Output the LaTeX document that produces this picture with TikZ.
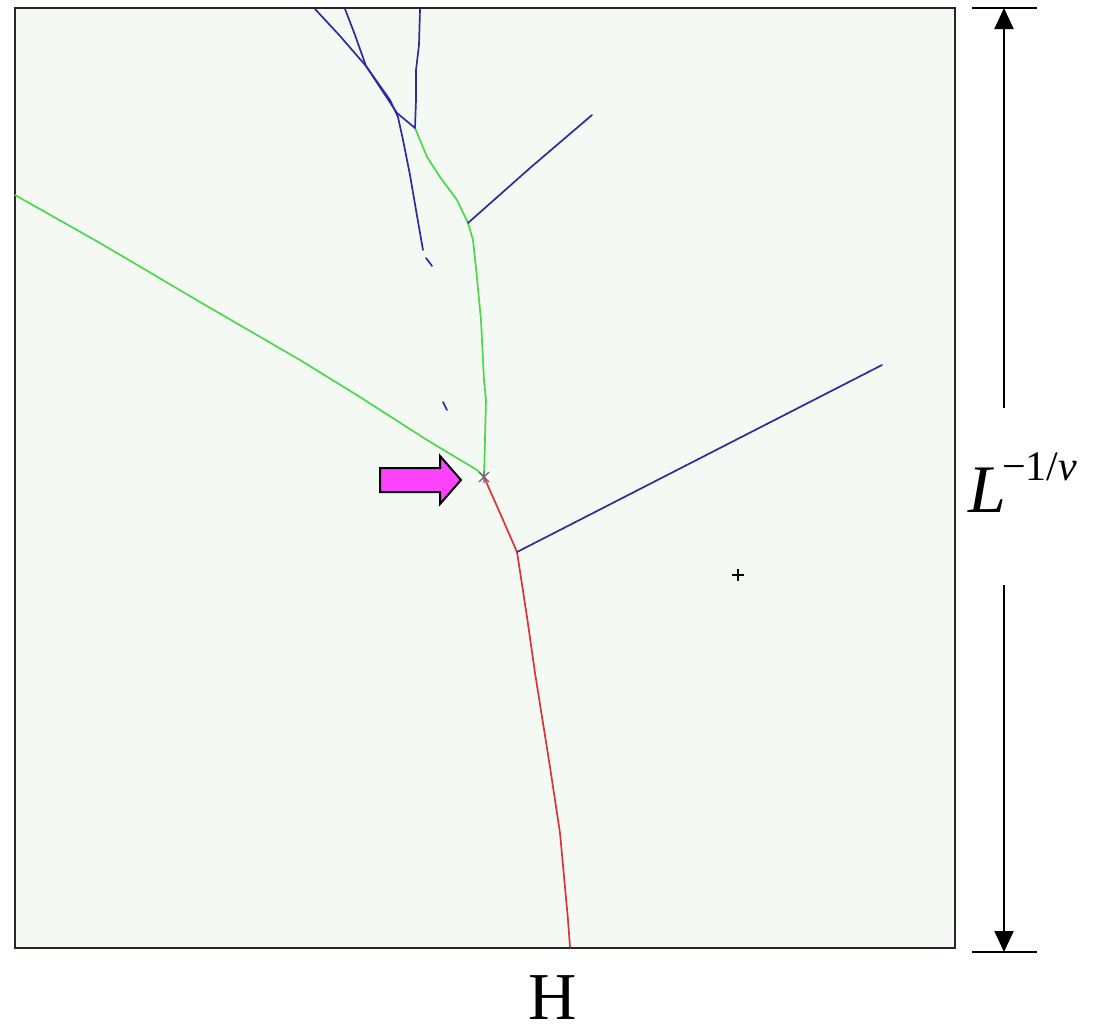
\documentclass[tikz,border=0pt]{standalone}
\usepackage{fontspec}
\setmainfont{Liberation Serif}
\usetikzlibrary{arrows.meta}

\definecolor{veld}{RGB}{244,249,244}
\definecolor{takblauw}{RGB}{44,44,158}
\definecolor{takgroen}{RGB}{72,218,72}
\definecolor{takrood}{RGB}{218,52,52}
\definecolor{pijlroze}{RGB}{255,66,255}
\definecolor{kruis}{RGB}{130,90,130}

\begin{document}
\begin{tikzpicture}[x=1pt, y=-1pt, >={Triangle[length=21pt,width=19pt]},
    tak/.style={line width=1.7pt, line join=round, line cap=round},
    maat/.style={line width=2pt}]
      \useasboundingbox (0,0) rectangle (1105,1034);

      % Veld
      \filldraw[fill=veld, draw=black!85, line width=2pt] (15,8) rectangle (955,948);

      % Knooppunten
      \coordinate (tripel) at (484,477);
      \coordinate (splitrood) at (517,552);
      \coordinate (splitgroen) at (468,223);
      \coordinate (kruising) at (415,128);

      % Groene takken
      \draw[tak, takgroen] (15,195) -- (100,243) -- (200,302) -- (300,360)
          -- (360,397) -- (427,440) -- (477,470) -- (tripel);
      \draw[tak, takgroen] (tripel) -- (486,400) -- (484,380) -- (481,320)
          -- (476,268) -- (473,240) -- (splitgroen);
      \draw[tak, takgroen] (splitgroen) -- (457,200) -- (440,177)
          -- (427,157) -- (kruising);

      % Rode tak
      \draw[tak, takrood] (tripel) -- (500,513) -- (splitrood) -- (527,617)
          -- (535,673) -- (550,767) -- (560,833) -- (568,920) -- (570,947);

      % Blauwe takken
      \draw[tak, takblauw] (splitrood) -- (882,365);
      \draw[tak, takblauw] (splitgroen) -- (530,168) -- (592,115);
      \draw[tak, takblauw] (kruising) -- (416,100) -- (416,70) -- (419,45) -- (420,9);
      \draw[tak, takblauw] (kruising) -- (397,113) -- (366,66) -- (340,36) -- (315,9);
      \draw[tak, takblauw] (345,9) -- (355,35) -- (366,66) -- (390,100) -- (398,117)
          -- (403,140) -- (410,175) -- (416,210) -- (423,250);
      \draw[tak, takblauw] (426,258) -- (432,266);
      \draw[tak, takblauw] (443,402) -- (447,410);

      % Merktekens
      \draw[line width=1.3pt, kruis] (tripel) ++(-5,-5) -- ++(10,10)
          (tripel) ++(-5,5) -- ++(10,-10)
          (tripel) ++(0,-6) -- ++(0,12);
      \draw[line width=1.5pt] (732,575) -- (744,575) (738,569) -- (738,581);

      % Pijl naar het tripelpunt
      \filldraw[fill=pijlroze, draw=black, line width=2pt, line join=miter]
          (380,468) -- (440,468) -- (440,456) -- (461,480) -- (440,504)
          -- (440,492) -- (380,492) -- cycle;

      % Maatlijn
      \coordinate (maatboven) at (1004,8);
      \coordinate (maatonder) at (1004,952);
      \draw[maat] (972,8) -- (1037,8);
      \draw[maat] (972,952) -- (1037,952);
      \draw[maat, <-] (maatboven) -- (1004,408);
      \draw[maat, ->] (1004,585) -- (maatonder);

      % Labels
      \node[anchor=base west, inner sep=0pt] (labelL) at (968,512)
          {\fontsize{68}{70}\selectfont\itshape L\hspace{-4pt}\raisebox{32pt}{\fontsize{42}{46}\selectfont\upshape −1/\textit{ν}}};
      \node[anchor=base, inner sep=0pt] (labelH) at (553,1019)
          {\fontsize{67}{70}\selectfont H};

\end{tikzpicture}
\end{document}
